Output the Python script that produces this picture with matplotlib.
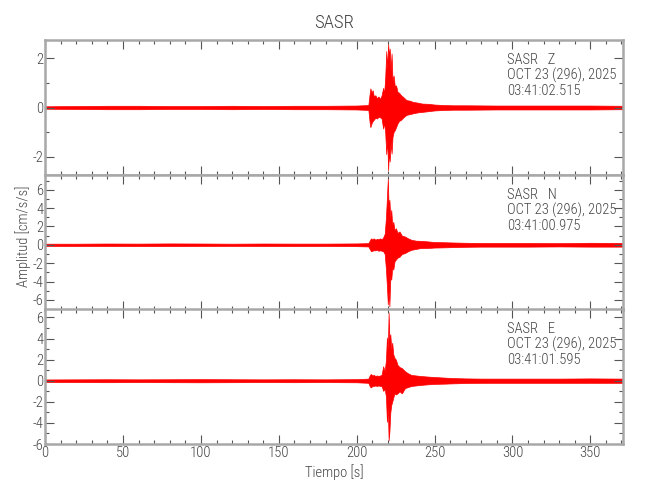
import matplotlib
matplotlib.use("Agg")
import matplotlib.pyplot as plt
from matplotlib import font_manager as fm
from matplotlib.ticker import MultipleLocator

# pick a narrow font if one is installed
_fonts = [(f.name, f.stretch, f.weight) for f in fm.fontManager.ttflist]
_names = set(n for n, s, w in _fonts)
font_family = 'DejaVu Sans'
font_stretch = 'normal'
font_weight = 'normal'
if 'Roboto Condensed' in _names:
    font_family = 'Roboto Condensed'
    if any(n == 'Roboto Condensed' and w in (300, 'light') for n, s, w in _fonts):
        font_weight = 'light'
elif 'Liberation Sans Narrow' in _names:
    font_family = 'Liberation Sans Narrow'
elif any(n == 'DejaVu Sans' and str(s) in ('condensed', '500') for n, s, w in _fonts):
    font_family = 'DejaVu Sans'
    font_stretch = 'condensed'
elif any(n == 'Roboto' for n, s, w in _fonts):
    font_family = 'Roboto'
plt.rcParams['font.family'] = [font_family, 'DejaVu Sans']
plt.rcParams['font.stretch'] = font_stretch
plt.rcParams['font.weight'] = font_weight
plt.rcParams['axes.titleweight'] = font_weight
plt.rcParams['axes.labelweight'] = font_weight
plt.rcParams['axes.unicode_minus'] = False

# ---- data (envelope knots) ----
station = "SASR"
components = ["Z", "N", "E"]
start_times = ["03:41:02.515", "03:41:00.975", "03:41:01.595"]
date_label = "OCT 23 (296), 2025"

t_z = [0, 20, 40, 60, 80, 100, 120, 140, 160, 180, 200,
       207.5, 208.3, 208.8, 209.5, 210.3,
       211, 212, 213, 214, 215, 216, 217,
       217.6, 218.3, 219, 219.6, 220.2, 220.7, 221.2, 221.8, 222.4, 223,
       223.7, 224.5, 225.3, 226.2, 227.2, 228.5, 230, 232, 234, 236,
       239, 242, 246, 250, 256, 262, 270,
       290, 310, 330, 350, 371]
up_z = [0.05, 0.06, 0.07, 0.07, 0.06, 0.06, 0.07, 0.06, 0.07, 0.07, 0.08,
        0.1, 0.55, 0.78, 0.62, 0.7,
        0.45, 0.5, 0.38, 0.45, 0.35, 0.5, 0.8,
        0.55, 1.2, 2.3, 1.6, 2.6, 2.1, 2.4, 1.5, 2.2, 1.1,
        1.3, 0.85, 0.9, 0.64, 0.6, 0.5, 0.42, 0.3, 0.28, 0.23,
        0.2, 0.16, 0.15, 0.12, 0.1, 0.09, 0.09,
        0.08, 0.08, 0.08, 0.08, 0.07]
lo_z = [-0.05, -0.06, -0.07, -0.07, -0.06, -0.06, -0.07, -0.06, -0.07, -0.07, -0.08,
        -0.1, -0.6, -0.8, -0.65, -0.55,
        -0.5, -0.42, -0.45, -0.38, -0.4, -0.45, -0.86,
        -0.6, -1.0, -1.9, -1.3, -2.56, -1.8, -2.2, -1.4, -1.88, -1.2,
        -1.0, -0.92, -0.8, -0.65, -0.55, -0.5, -0.4, -0.3, -0.27, -0.24,
        -0.2, -0.18, -0.15, -0.12, -0.1, -0.09, -0.09,
        -0.08, -0.08, -0.08, -0.08, -0.07]

t_ne = [0, 20, 40, 60, 80, 100, 120, 140, 160, 180, 200,
        207.5, 208.5, 209.2, 210,
        211, 212, 213, 214, 215, 216, 217, 218,
        218.8, 219.4, 220, 220.5, 221, 221.6, 222.2, 222.8, 223.5,
        224.3, 225.2, 226.2, 227.5, 229, 231, 233, 235,
        238, 241, 245, 250, 256, 262, 270, 280, 290,
        310, 330, 350, 371]
up_n = [0.12, 0.12, 0.14, 0.13, 0.15, 0.14, 0.12, 0.14, 0.13, 0.13, 0.15,
        0.18, 0.5, 0.7, 0.6,
        0.7, 0.55, 0.65, 0.6, 0.7, 0.6, 0.8, 1.2,
        3.0, 5.1, 7.25, 4.0, 4.9, 3.0, 3.8, 2.2, 2.5,
        1.6, 1.8, 1.3, 1.45, 1.0, 0.9, 0.7, 0.55,
        0.45, 0.43, 0.38, 0.3, 0.28, 0.25, 0.22, 0.2, 0.2,
        0.2, 0.18, 0.22, 0.2]
lo_n = [-0.12, -0.13, -0.13, -0.14, -0.14, -0.13, -0.12, -0.13, -0.14, -0.13, -0.15,
        -0.18, -0.5, -0.7, -0.65,
        -0.6, -0.6, -0.55, -0.65, -0.6, -0.65, -0.7, -1.0,
        -2.7, -4.5, -6.5, -5.0, -6.7, -3.5, -3.8, -2.5, -2.7,
        -1.8, -1.6, -1.4, -1.3, -1.0, -0.9, -0.7, -0.55,
        -0.45, -0.36, -0.35, -0.3, -0.28, -0.25, -0.22, -0.2, -0.2,
        -0.2, -0.18, -0.2, -0.2]
up_e = [0.12, 0.13, 0.14, 0.13, 0.14, 0.15, 0.14, 0.13, 0.14, 0.13, 0.15,
        0.2, 0.55, 0.64, 0.5,
        0.55, 0.45, 0.5, 0.45, 0.5, 0.55, 1.37, 0.9,
        2.0, 4.1, 3.0, 6.47, 4.0, 4.4, 3.0, 3.6, 2.5,
        2.16, 2.0, 1.5, 1.3, 1.2, 0.9, 0.7, 0.55,
        0.5, 0.45, 0.4, 0.35, 0.3, 0.25, 0.22, 0.2, 0.2,
        0.2, 0.2, 0.22, 0.2]
lo_e = [-0.12, -0.13, -0.14, -0.13, -0.14, -0.15, -0.14, -0.13, -0.14, -0.13, -0.15,
        -0.2, -0.55, -0.64, -0.5,
        -0.5, -0.45, -0.5, -0.45, -0.5, -0.5, -0.96, -0.8,
        -1.5, -3.9, -2.5, -5.65, -4.85, -3.0, -2.3, -2.0, -1.6,
        -1.2, -1.3, -1.2, -1.0, -1.2, -0.7, -0.6, -0.5,
        -0.45, -0.4, -0.35, -0.3, -0.28, -0.25, -0.22, -0.2, -0.2,
        -0.2, -0.2, -0.2, -0.2]

ylims = [(-2.75, 2.75), (-7.1, 7.6), (-6.0, 6.8)]
ymajor = [2, 2, 2]
xlim = (0, 371)

traces = [(t_z, up_z, lo_z), (t_ne, up_n, lo_n), (t_ne, up_e, lo_e)]

# ---- figure ----
fig = plt.figure(figsize=(6.5, 5), dpi=100)
left, right = 0.0695, 0.9585
bottoms = [0.65, 0.38, 0.112]
height = 0.27
spine_c = '#a8a8a8'
tick_c = '#555555'
text_c = '#444444'
fs = 10.5

axes = []
for i in range(3):
    ax = fig.add_axes([left, bottoms[i], right - left, height])
    t, up, lo = traces[i]
    ax.fill_between(t, lo, up, color='#ff0000', linewidth=0.5, edgecolor='#ff0000')
    ax.set_xlim(*xlim)
    ax.set_ylim(*ylims[i])
    ax.xaxis.set_major_locator(MultipleLocator(50))
    ax.xaxis.set_minor_locator(MultipleLocator(10))
    ax.yaxis.set_major_locator(MultipleLocator(ymajor[i]))
    ax.yaxis.set_minor_locator(MultipleLocator(1))
    ax.tick_params(which='both', direction='in', top=True, right=True,
                   color=tick_c, labelcolor=text_c, labelsize=fs, width=0.8, pad=1.5)
    ax.tick_params(which='major', length=6.5)
    ax.tick_params(which='minor', length=3.2)
    for s in ax.spines.values():
        s.set_color(spine_c)
        s.set_linewidth(1.8)
    if i < 2:
        ax.tick_params(labelbottom=False)
    ax.text(0.8, 0.852, f"{station}   {components[i]}", transform=ax.transAxes,
            ha='left', va='center', fontsize=fs, color=text_c)
    ax.text(0.8, 0.737, date_label, transform=ax.transAxes,
            ha='left', va='center', fontsize=fs, color=text_c)
    ax.text(0.8, 0.622, start_times[i], transform=ax.transAxes,
            ha='left', va='center', fontsize=fs, color=text_c)
    axes.append(ax)

axes[0].set_title(station, fontsize=13.5, color=text_c, pad=9, fontweight=font_weight)
axes[2].set_xlabel("Tiempo [s]", fontsize=fs, color=text_c, labelpad=3, fontweight=font_weight)
fig.text(0.036, 0.528, "Amplitud [cm/s/s]", rotation=90, ha='center', va='center',
         fontsize=fs, color=text_c, fontweight=font_weight)

fig.savefig("out.png", dpi=100)
